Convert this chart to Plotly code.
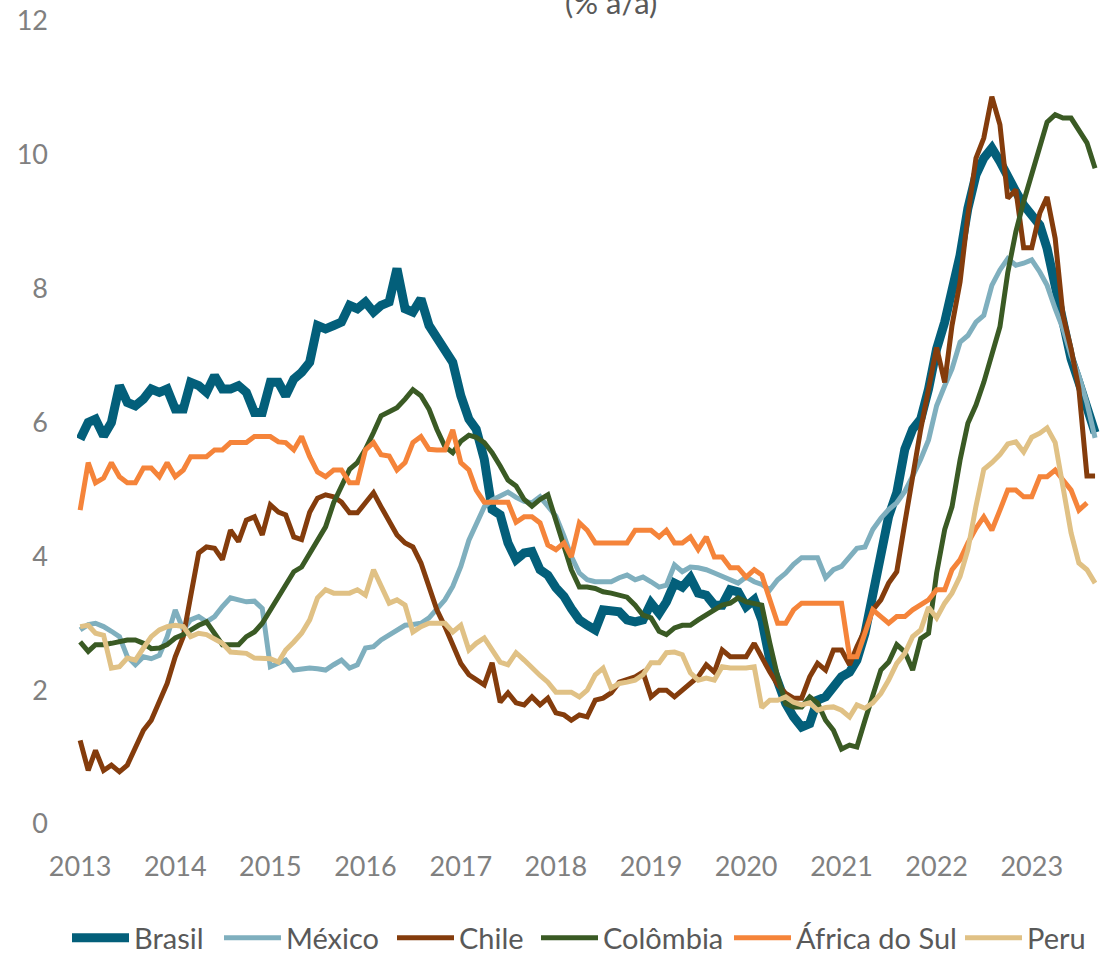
import pandas as pd
import plotly.graph_objects as go

START = "2013-01-01"

BRASIL = [
    5.75, 6.0, 6.05, 5.8, 6.0, 6.55, 6.3, 6.25, 6.35, 6.5, 6.45, 6.5,
    6.2, 6.2, 6.6, 6.55, 6.45, 6.7, 6.5, 6.5, 6.55, 6.45, 6.15, 6.15,
    6.6, 6.6, 6.4, 6.65, 6.75, 6.9, 7.45, 7.4, 7.45, 7.5, 7.75, 7.7,
    7.8, 7.65, 7.75, 7.8, 8.3, 7.7, 7.65, 7.85, 7.45, 7.25, 7.1, 6.9,
    6.4, 6.05, 5.9, 5.45, 4.7, 4.62, 4.2, 3.95, 4.05, 4.07, 3.8, 3.72,
    3.53, 3.4, 3.22, 3.05, 2.97, 2.9, 3.2, 3.2, 3.17, 3.05, 3.02, 3.05,
    3.3, 3.15, 3.32, 3.6, 3.54, 3.68, 3.45, 3.42, 3.27, 3.27, 3.5, 3.47,
    3.25, 3.35, 3.05, 2.45, 2.15, 1.8, 1.6, 1.45, 1.5, 1.85, 1.9, 2.05,
    2.2, 2.27, 2.45, 2.85, 3.4, 4.1, 4.6, 4.95, 5.6, 5.9, 6.05, 6.5,
    7.1, 7.5, 7.95, 8.5, 9.2, 9.7, 9.95, 10.1, 9.9, 9.65, 9.45, 9.25,
    9.1, 8.95, 8.6, 8.0, 7.5, 6.95, 6.6, 6.2, 5.85,
]

MEXICO = [
    2.9, 2.98, 3.0, 2.95, 2.88, 2.8, 2.5, 2.38, 2.5, 2.47, 2.52, 2.8,
    3.2, 2.9, 3.05, 3.1, 3.02, 3.1, 3.25, 3.38, 3.35, 3.32, 3.33, 3.22,
    2.35, 2.4, 2.45, 2.3, 2.32, 2.33, 2.32, 2.3, 2.38, 2.45, 2.33, 2.38,
    2.63, 2.65, 2.75, 2.82, 2.9, 2.97, 2.98, 3.0, 3.08, 3.22, 3.35, 3.55,
    3.85, 4.24, 4.47, 4.74, 4.84, 4.9, 4.96, 4.88, 4.82, 4.8, 4.89, 4.75,
    4.6, 4.3, 4.0, 3.75, 3.65, 3.62, 3.62, 3.62, 3.68, 3.72, 3.65, 3.69,
    3.62, 3.54, 3.57, 3.87, 3.77, 3.84, 3.83, 3.8, 3.75, 3.7, 3.65, 3.6,
    3.69, 3.62, 3.58, 3.5, 3.65, 3.75, 3.88, 3.98, 3.98, 3.98, 3.68, 3.8,
    3.85, 4.0, 4.12, 4.14, 4.4, 4.57, 4.7, 4.8, 4.97, 5.2, 5.45, 5.74,
    6.25, 6.55, 6.8, 7.2, 7.3, 7.5, 7.6, 8.05, 8.28, 8.45, 8.35, 8.38,
    8.43, 8.25, 8.05, 7.7, 7.4, 7.0, 6.7, 6.29, 5.77,
]

CHILE = [
    1.25, 0.8, 1.1, 0.8, 0.88, 0.78, 0.88, 1.15, 1.4, 1.55, 1.85, 2.1,
    2.5, 2.8, 3.4, 4.05, 4.14, 4.12, 3.95, 4.39, 4.22, 4.54, 4.59, 4.32,
    4.77, 4.66, 4.62, 4.29, 4.25, 4.66, 4.87, 4.92, 4.89, 4.81, 4.65, 4.65,
    4.8, 4.95, 4.74, 4.54, 4.32, 4.2, 4.14, 3.9, 3.54, 3.2, 2.95, 2.7,
    2.4, 2.23, 2.15, 2.08, 2.41, 1.82, 1.96, 1.81, 1.78, 1.9, 1.78, 1.88,
    1.66, 1.63, 1.55, 1.63, 1.6, 1.85, 1.88, 1.96, 2.12, 2.15, 2.2, 2.27,
    1.9, 2.0, 2.0, 1.9, 2.0, 2.1, 2.2, 2.38, 2.27, 2.6, 2.5, 2.5,
    2.5, 2.7, 2.48, 2.27, 2.08, 1.95, 1.88, 1.88, 2.2, 2.4, 2.3, 2.6,
    2.6, 2.38, 2.65, 2.9, 3.2, 3.35, 3.6, 3.77, 4.5, 5.2, 5.9, 6.5,
    7.12, 6.6, 7.45, 8.1, 9.1, 9.95, 10.25, 10.87, 10.45, 9.35, 9.48, 8.61,
    8.61, 9.13, 9.37, 8.75, 7.6, 7.1, 6.5, 5.2, 5.2,
]

COLOMBIA = [
    2.72, 2.58, 2.68, 2.68, 2.7, 2.72, 2.75, 2.75, 2.7, 2.62, 2.63, 2.68,
    2.78, 2.83, 2.9, 2.97, 3.02, 2.85, 2.68, 2.68, 2.68, 2.8, 2.87, 3.0,
    3.2, 3.42, 3.6, 3.77, 3.84, 4.05, 4.22, 4.44, 4.8, 5.05, 5.3, 5.4,
    5.6, 5.85, 6.1, 6.16, 6.22, 6.35, 6.49, 6.4, 6.2, 5.9, 5.64, 5.55,
    5.72, 5.81, 5.78, 5.7, 5.55, 5.35, 5.14, 5.05, 4.85, 4.75, 4.85, 4.92,
    4.55, 4.15, 3.8, 3.54, 3.54, 3.52, 3.47, 3.45, 3.42, 3.39, 3.27, 3.12,
    3.08, 2.88, 2.83, 2.93, 2.97, 2.97, 3.05, 3.12, 3.2, 3.27, 3.3, 3.38,
    3.32, 3.3, 3.27, 2.7, 2.2, 1.8, 1.75, 1.75, 1.9, 1.81, 1.55, 1.4,
    1.12, 1.18, 1.15, 1.55, 1.95, 2.3, 2.42, 2.68, 2.57, 2.3, 2.77, 2.85,
    3.75, 4.4, 4.74, 5.44, 5.99, 6.26, 6.6, 7.0, 7.43, 8.24, 8.85, 9.3,
    9.7, 10.15, 10.49, 10.6, 10.55, 10.55, 10.38, 10.18, 9.8,
]

AFRICA_DO_SUL = [
    4.69, 5.4, 5.1, 5.17, 5.4, 5.19, 5.1, 5.1, 5.32, 5.32, 5.19, 5.4,
    5.19, 5.29, 5.49, 5.49, 5.49, 5.59, 5.59, 5.7, 5.7, 5.7, 5.79, 5.79,
    5.79, 5.71, 5.7, 5.59, 5.79, 5.49, 5.26, 5.19, 5.29, 5.29, 5.1, 5.1,
    5.59, 5.7, 5.52, 5.5, 5.29, 5.4, 5.7, 5.79, 5.6, 5.59, 5.59, 5.89,
    5.4, 5.29, 4.99, 4.81, 4.81, 4.81, 4.81, 4.51, 4.59, 4.59, 4.5, 4.17,
    4.1, 4.2, 3.99, 4.5, 4.39, 4.2, 4.2, 4.2, 4.2, 4.2, 4.39, 4.39,
    4.39, 4.29, 4.39, 4.2, 4.2, 4.29, 4.1, 4.29, 3.99, 3.99, 3.83, 3.83,
    3.69, 3.8, 3.72, 3.35, 3.0, 3.0, 3.2, 3.3, 3.3, 3.3, 3.3, 3.3,
    3.3, 2.5, 2.5, 2.85, 3.2, 3.1, 3.0, 3.1, 3.1, 3.2, 3.28, 3.35,
    3.5, 3.5, 3.8, 3.95, 4.2, 4.42, 4.59, 4.39, 4.69, 4.99, 4.99, 4.89,
    4.89, 5.19, 5.19, 5.29, 5.14, 4.99, 4.69, 4.8,
]

PERU = [
    2.95, 2.97, 2.85, 2.82, 2.33, 2.35, 2.48, 2.45, 2.63, 2.8, 2.9, 2.95,
    2.97, 2.95, 2.8, 2.85, 2.83, 2.76, 2.7, 2.57, 2.56, 2.55, 2.48, 2.48,
    2.47, 2.42, 2.6, 2.72, 2.85, 3.05, 3.38, 3.5, 3.45, 3.45, 3.45, 3.5,
    3.42, 3.8, 3.57, 3.3, 3.35, 3.27, 2.87, 2.95, 3.0, 3.0, 3.0, 2.87,
    2.97, 2.6, 2.7, 2.78, 2.6, 2.42, 2.38, 2.56, 2.45, 2.33, 2.22, 2.12,
    1.97, 1.97, 1.97, 1.9, 2.0, 2.23, 2.33, 2.03, 2.1, 2.12, 2.15, 2.23,
    2.41, 2.41, 2.56, 2.57, 2.53, 2.26, 2.15, 2.18, 2.15, 2.35, 2.33, 2.33,
    2.33, 2.35, 1.74, 1.85, 1.85, 1.9, 1.82, 1.78, 1.81, 1.7, 1.74, 1.75,
    1.7, 1.6, 1.78, 1.73, 1.81, 1.95, 2.15, 2.4, 2.55, 2.8, 2.9, 3.24,
    3.08, 3.3, 3.45, 3.7, 4.1, 4.75, 5.3, 5.4, 5.52, 5.68, 5.71, 5.56,
    5.78, 5.84, 5.92, 5.7, 5.04, 4.35, 3.9, 3.8, 3.6,
]

SERIES = [
    ("Brasil", BRASIL),
    ("México", MEXICO),
    ("Chile", CHILE),
    ("Colômbia", COLOMBIA),
    ("África do Sul", AFRICA_DO_SUL),
    ("Peru", PERU),
]

# colour, line width, left edge of its legend entry (px)
STYLE = {
    "Brasil": ("#035f7a", 9, 67),
    "México": ("#7fafbe", 5, 219),
    "Chile": ("#843c0c", 5, 392),
    "Colômbia": ("#3a5a24", 5, 536),
    "África do Sul": ("#f5843a", 5, 729),
    "Peru": ("#e0c185", 5, 960),
}

FONT = "Lato, 'Open Sans', sans-serif"
W, H = 1107, 954

fig = go.Figure()
legends = {}
for k, (name, values) in enumerate(SERIES):
    color, width, left = STYLE[name]
    key = "legend" if k == 0 else f"legend{k + 1}"
    dates = pd.date_range(START, periods=len(values), freq="MS")
    fig.add_trace(go.Scatter(
        x=dates, y=values, mode="lines", name=name, legend=key,
        line=dict(color=color, width=width),
    ))
    legends[key] = dict(
        xref="container", yref="container",
        x=left / W, xanchor="left", y=1 - 938 / H, yanchor="middle",
        orientation="h", bgcolor="rgba(0,0,0,0)",
        font=dict(family=FONT, size=29, color="#595959"),
        itemwidth=57,
    )

# only the lower part of the title shows in the reference
fig.add_annotation(
    text="(% a/a)", xref="paper", yref="paper", x=0.522, y=1.024,
    xanchor="center", yanchor="middle", showarrow=False,
    font=dict(family=FONT, size=31, color="#595959"),
)

fig.update_xaxes(
    range=["2012-12-20", "2023-09-20"],
    dtick="M12", tick0="2013-01-01", tickformat="%Y",
    showgrid=False, zeroline=False, showline=False, automargin=False,
    tickfont=dict(family=FONT, size=27, color="#808080"),
    ticks="", ticklabelstandoff=24,
)
fig.update_yaxes(
    range=[0, 12], dtick=2,
    showgrid=False, zeroline=False, showline=False, automargin=False,
    tickfont=dict(family=FONT, size=27, color="#808080"),
    ticks="", ticklabelstandoff=28,
)

fig.update_layout(
    width=W, height=H,
    plot_bgcolor="white", paper_bgcolor="white",
    margin=dict(l=77, r=7, t=21, b=130),
    showlegend=True,
    **legends,
)

fig.write_html(
    "out.html",
    config={"displayModeBar": False},
    post_script="document.body.style.margin = '0';",
)
